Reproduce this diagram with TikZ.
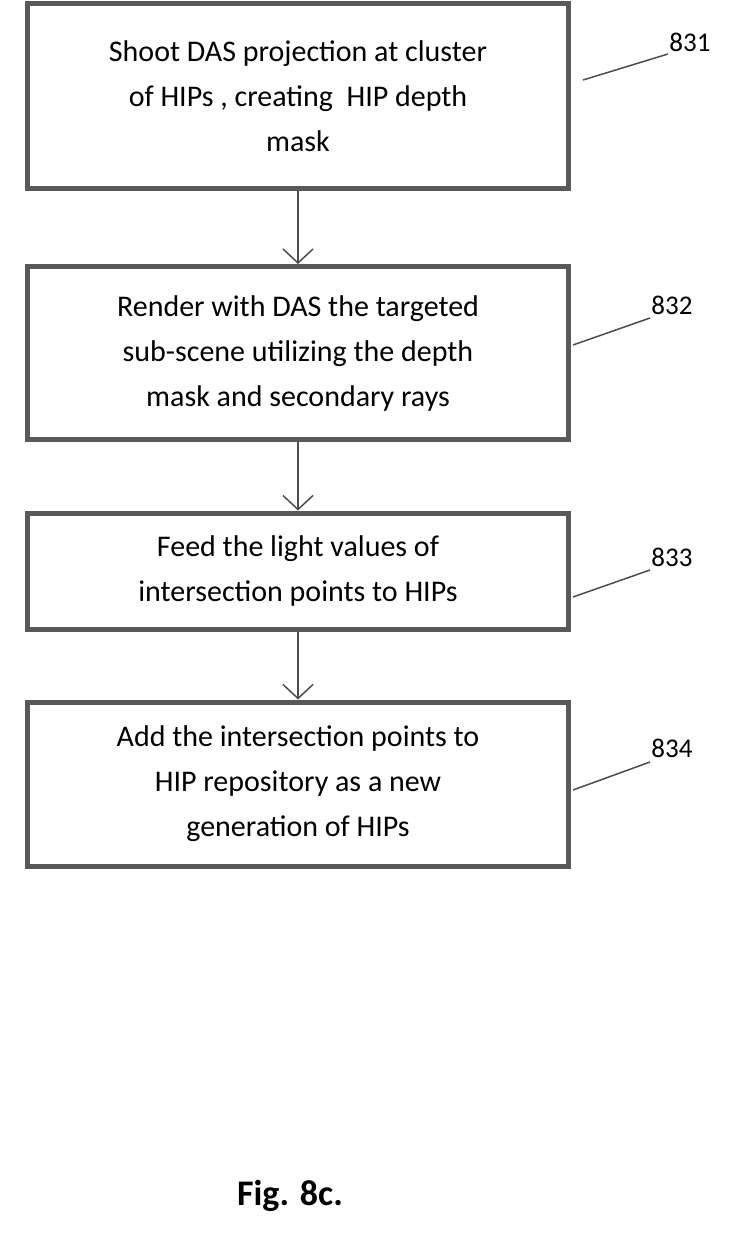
\documentclass[tikz,border=0pt]{standalone}
\usepackage{fontspec}
\setmainfont{Carlito}
\usetikzlibrary{arrows.meta}

\tikzset{
  box/.style={draw=black!65, line width=5pt, minimum width=541pt, align=center,
    font=\fontsize{30}{45}\selectfont, inner sep=0pt},
  flow/.style={-{Straight Barb[length=14pt,width=30pt]}, black!70, line width=1.5pt},
  tag/.style={font=\fontsize{27}{30}\selectfont}
}

\begin{document}
\begin{tikzpicture}[x=1pt, y=-1pt]
\useasboundingbox (0,0) rectangle (736,1239);

\node[box, minimum height=184pt] (s831) at (298,96) {Shoot DAS projection at cluster\\of HIPs , creating\ \ HIP depth\\mask};
\node[box, minimum height=173pt] (s832) at (298,353) {Render with DAS the targeted\\sub-scene utilizing the depth\\mask and secondary rays};
\node[box, minimum height=116pt] (s833) at (298,571) {Feed the light values of\\intersection points to HIPs};
\node[box, minimum height=164pt] (s834) at (298,784) {Add the intersection points to\\HIP repository as a new\\generation of HIPs};

\draw[flow] (s831) -- (s832);
\draw[flow] (s832) -- (s833);
\draw[flow] (s833) -- (s834);

% reference numbers
\node[tag] (n831) at (690,42) {831};
\node[tag] (n832) at (672,305) {832};
\node[tag] (n833) at (672,557) {833};
\node[tag] (n834) at (672,748) {834};
\coordinate (c831) at (668,54);
\coordinate (c832) at (650,318);
\coordinate (c833) at (650,570);
\coordinate (c834) at (650,762);
\draw[black!70, line width=1.5pt] (583,80) -- (c831);
\draw[black!70, line width=1.5pt] (573,345) -- (c832);
\draw[black!70, line width=1.5pt] (573,597) -- (c833);
\draw[black!70, line width=1.5pt] (573,790) -- (c834);

\node[font=\bfseries\fontsize{36}{40}\selectfont] (fig) at (290,1196) {Fig. 8c.};
\end{tikzpicture}
\end{document}
